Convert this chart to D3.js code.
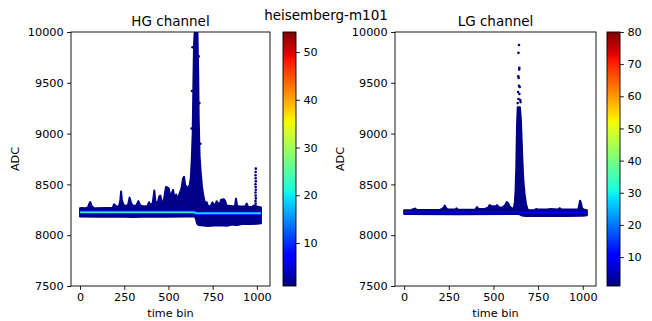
<!DOCTYPE html>
<html><head><meta charset="utf-8">
<script src="https://cdn.jsdelivr.net/npm/d3@7"></script>
<style>body{margin:0;background:#fff}svg{display:block}</style>
</head><body><div id="chart"></div>
<script>
// ---------------- data ----------------
const suptitle = "heisemberg-m101";
const xTicks = [0, 250, 500, 750, 1000];
const yTicks = [7500, 8000, 8500, 9000, 9500, 10000];
const hgCbTicks = [10, 20, 30, 40, 50];
const lgCbTicks = [10, 20, 30, 40, 50, 60, 70, 80];
const hgCountRange = [1, 54.2];
const lgCountRange = [1, 80];

// HG channel: upper / lower envelope of the point cloud (time bin, ADC)
const hgUpperT = [0,10,30,45,52,58,66,80,150,185,192,200,212,222,228,232,237,248,262,272,280,288,300,318,330,340,360,382,390,398,410,416,420,426,440,448,454,462,472,478,486,494,502,510,518,526,534,544,552,556,566,574,582,588,594,602,612,620,626,632,637,641,645,648,664,668,671,676,682,690,698,706,716,724,740,748,756,766,772,780,792,798,812,820,828,850,876,882,888,900,935,942,950,972,982,1000,1012,1023];
const hgUpperV = [8265,8268,8265,8272,8310,8325,8285,8265,8268,8270,8305,8292,8278,8292,8350,8430,8340,8292,8288,8300,8370,8320,8288,8292,8335,8292,8282,8288,8325,8296,8312,8380,8440,8330,8325,8380,8390,8335,8320,8390,8475,8470,8460,8380,8410,8445,8370,8400,8345,8375,8425,8465,8555,8575,8495,8475,8465,8495,8560,8750,9000,9500,9900,9990,9995,9600,9150,8780,8620,8470,8380,8320,8325,8282,8288,8322,8306,8292,8335,8312,8316,8350,8355,8340,8292,8287,8282,8360,8292,8282,8282,8312,8278,8278,8292,8282,8278,8272];
const hgLowerT = [0,100,200,300,400,500,600,648,655,662,670,700,720,760,800,830,860,890,920,960,1000,1023];
const hgLowerV = [8185,8181,8183,8179,8183,8181,8183,8183,8165,8115,8100,8095,8090,8095,8097,8093,8104,8100,8113,8110,8112,8118];
// HG dense core (high counts)
const hgCoreT = [0, 646, 656, 1023];
const hgCoreV = [8225, 8225, 8216, 8216];
const hgCoreCounts = [8, 17, 24];
// HG isolated points
const hgDotsT = [993,992,994,993,992,994,993,992,994,993,992,993,994,636,671,633,675,631,680];
const hgDotsV = [8310,8335,8362,8390,8420,8447,8475,8502,8530,8560,8590,8622,8655,9850,9760,9420,9300,9050,8900];

// LG channel
const lgUpperT = [0,40,55,62,70,200,212,222,228,234,245,285,292,300,340,400,408,416,450,470,478,486,500,512,520,530,550,566,574,582,592,606,614,620,624,628,632,636,648,654,658,662,667,674,682,690,700,730,740,750,800,820,860,872,880,930,975,980,985,990,996,1005,1023];
const lgUpperV = [8246,8248,8258,8262,8248,8248,8258,8272,8292,8268,8252,8252,8264,8252,8250,8254,8276,8258,8258,8270,8296,8288,8286,8282,8296,8276,8272,8296,8326,8316,8278,8262,8266,8330,8440,8680,9080,9260,9260,9130,8930,8740,8550,8410,8310,8255,8246,8248,8258,8252,8254,8258,8252,8266,8254,8252,8254,8296,8340,8316,8266,8252,8246];
const lgLowerT = [0,300,600,640,650,660,680,750,800,900,1000,1023];
const lgLowerV = [8208,8207,8208,8208,8202,8194,8188,8190,8188,8190,8192,8196];
const lgCoreT = [0, 646, 656, 1023];
const lgCoreV = [8228, 8228, 8222, 8222];
const lgCoreCounts = [9];
const lgDotsT = [643,640,645,644,639,641,643,647,638,645,640,650,636,652];
const lgDotsV = [9872,9795,9648,9632,9565,9548,9470,9458,9410,9390,9340,9330,9300,9310];

// ---------------- drawing ----------------
const W = 652, H = 321;
const FONT = "DejaVu Sans";
const jetR = d3.scaleLinear().domain([0,0.35,0.66,0.89,1]).range([0,0,1,1,0.5]).clamp(true);
const jetG = d3.scaleLinear().domain([0,0.125,0.375,0.64,0.91,1]).range([0,0,1,1,0,0]).clamp(true);
const jetB = d3.scaleLinear().domain([0,0.11,0.34,0.65,1]).range([0.5,1,1,0,0]).clamp(true);
const jet = t => d3.rgb(jetR(t)*255, jetG(t)*255, jetB(t)*255).formatHex();
const fmt = d3.format("d");

const svg = d3.select("#chart").append("svg").attr("width", W).attr("height", H)
  .attr("font-family", FONT);

svg.append("text").attr("x", 326).attr("y", 20).attr("text-anchor", "middle")
  .attr("font-size", 13.5).attr("fill", "#000").text(suptitle);

const defs = svg.append("defs");

function panel(cfg, id) {
  const {left, right, top, bottom} = cfg;
  const x = d3.scaleLinear().domain([-51.15, 1074.15]).range([left, right]);
  const y = d3.scaleLinear().domain([7500, 10000]).range([bottom, top]);
  const cnorm = d3.scaleLinear().domain(cfg.countRange).range([0, 1]).clamp(true);
  const col = c => jet(cnorm(c));

  defs.append("clipPath").attr("id", "clip" + id).append("rect")
    .attr("x", left).attr("y", top).attr("width", right - left).attr("height", bottom - top);
  const g = svg.append("g").attr("clip-path", `url(#clip${id})`);

  const navy = col(1.5);
  const pts = cfg.upperT.map((t, i) => [t, cfg.upperV[i]])
    .concat(cfg.lowerT.map((t, i) => [t, cfg.lowerV[i]]).reverse());
  const line = d3.line().x(d => x(d[0])).y(d => y(d[1]));
  g.append("path").attr("d", line(pts) + "Z").attr("fill", navy)
    .attr("stroke", navy).attr("stroke-width", 2).attr("stroke-linejoin", "round");

  const core = cfg.coreT.map((t, i) => [t, cfg.coreV[i]]);
  const widths = cfg.coreWidths;
  cfg.coreCounts.forEach((c, i) => {
    g.append("path").attr("d", line(core)).attr("fill", "none")
      .attr("stroke", col(c)).attr("stroke-width", widths[i]);
  });

  g.selectAll("circle.dot").data(cfg.dotsT.map((t, i) => [t, cfg.dotsV[i]])).join("circle")
    .attr("class", "dot").attr("cx", d => x(d[0])).attr("cy", d => y(d[1])).attr("r", 1.3)
    .attr("fill", navy);

  // axes
  const ax = svg.append("g").attr("transform", `translate(0,${bottom})`)
    .call(d3.axisBottom(x).tickValues(xTicks).tickFormat(fmt).tickSize(3.9).tickPadding(3.5).tickSizeOuter(0));
  const ay = svg.append("g").attr("transform", `translate(${left},0)`)
    .call(d3.axisLeft(y).tickValues(yTicks).tickFormat(fmt).tickSize(3.9).tickPadding(3.5).tickSizeOuter(0));
  [ax, ay].forEach(a => {
    a.select(".domain").remove();
    a.selectAll("text").attr("font-family", FONT).attr("font-size", 11.25).attr("fill", "#000");
    a.selectAll("line").attr("stroke", "#000").attr("stroke-width", 0.9);
  });
  svg.append("rect").attr("x", left).attr("y", top).attr("width", right - left)
    .attr("height", bottom - top).attr("fill", "none").attr("stroke", "#000").attr("stroke-width", 0.9);

  svg.append("text").attr("x", (left + right) / 2).attr("y", top - 6.5).attr("text-anchor", "middle")
    .attr("font-size", 13.5).attr("fill", "#000").text(cfg.title);
  svg.append("text").attr("x", (left + right) / 2).attr("y", 317).attr("text-anchor", "middle")
    .attr("font-size", 11.25).attr("fill", "#000").text("time bin");
  svg.append("text").attr("transform", `translate(${cfg.ylabX},${(top + bottom) / 2}) rotate(-90)`)
    .attr("text-anchor", "middle").attr("font-size", 11.25).attr("fill", "#000").text("ADC");

  // colorbar
  const grad = defs.append("linearGradient").attr("id", "grad" + id)
    .attr("x1", 0).attr("y1", 1).attr("x2", 0).attr("y2", 0);
  d3.range(0, 1.0001, 0.01).forEach(t => grad.append("stop").attr("offset", t).attr("stop-color", jet(t)));
  svg.append("rect").attr("x", cfg.cbLeft).attr("y", top).attr("width", cfg.cbRight - cfg.cbLeft)
    .attr("height", bottom - top).attr("fill", `url(#grad${id})`)
    .attr("stroke", "#000").attr("stroke-width", 0.9);
  const cy = d3.scaleLinear().domain(cfg.countRange).range([bottom, top]);
  const ac = svg.append("g").attr("transform", `translate(${cfg.cbRight},0)`)
    .call(d3.axisRight(cy).tickValues(cfg.cbTicks).tickFormat(fmt).tickSize(3.9).tickPadding(3.5).tickSizeOuter(0));
  ac.select(".domain").remove();
  ac.selectAll("text").attr("font-family", FONT).attr("font-size", 11.25).attr("fill", "#000");
  ac.selectAll("line").attr("stroke", "#000").attr("stroke-width", 0.9);
}

panel({left: 71, right: 270, top: 32, bottom: 286, cbLeft: 283, cbRight: 296, ylabX: 18.5,
  title: "HG channel", countRange: hgCountRange, cbTicks: hgCbTicks,
  upperT: hgUpperT, upperV: hgUpperV, lowerT: hgLowerT, lowerV: hgLowerV,
  coreT: hgCoreT, coreV: hgCoreV, coreCounts: hgCoreCounts, coreWidths: [3.6, 2, 0.8],
  dotsT: hgDotsT, dotsV: hgDotsV}, "hg");

panel({left: 395, right: 596, top: 32, bottom: 286, cbLeft: 607, cbRight: 620, ylabX: 344,
  title: "LG channel", countRange: lgCountRange, cbTicks: lgCbTicks,
  upperT: lgUpperT, upperV: lgUpperV, lowerT: lgLowerT, lowerV: lgLowerV,
  coreT: lgCoreT, coreV: lgCoreV, coreCounts: lgCoreCounts, coreWidths: [1.4],
  dotsT: lgDotsT, dotsV: lgDotsV}, "lg");
</script></body></html>
